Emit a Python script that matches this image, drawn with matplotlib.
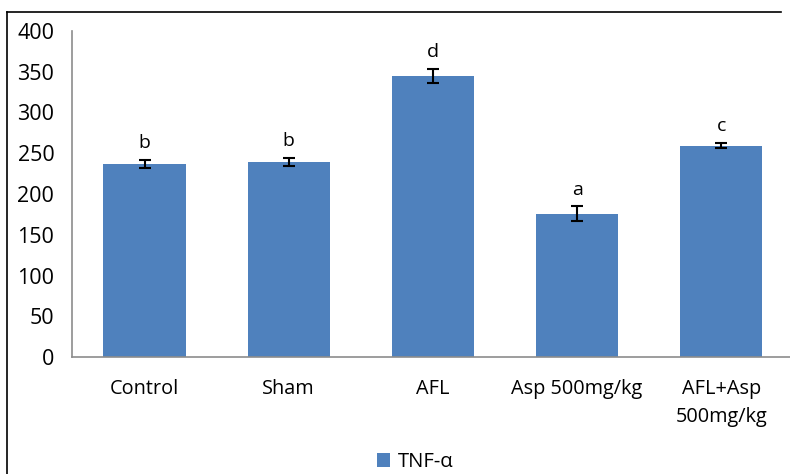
import numpy as np
import matplotlib.pyplot as plt
from matplotlib.lines import Line2D

plt.rcParams['font.family'] = ['Open Sans', 'DejaVu Sans']

groups = ['Control', 'Sham', 'AFL', 'Asp 500mg/kg', 'AFL+Asp\n500mg/kg']
tnf = [237, 239.5, 345, 176, 259.5]
sem = [5, 5, 8.5, 9, 3]
letters = ['b', 'b', 'd', 'a', 'c']

W, H = 790, 474
fig = plt.figure(figsize=(W / 100, H / 100), dpi=100)
ax = fig.add_axes([72.4 / W, (H - 357) / H, 721 / W, 326 / H])

x = np.arange(len(groups))
ax.bar(x, tnf, width=0.57, color='#4F81BD', label='TNF-α', zorder=2)
ax.errorbar(x, tnf, yerr=sem, fmt='none', ecolor='black', elinewidth=1.5,
            capsize=4, capthick=1.5, zorder=3)

for xi, v, e, s in zip(x, tnf, sem, letters):
    ax.annotate(s, (xi, v + e), xytext=(0, 5.5), textcoords='offset points',
                ha='center', va='bottom', fontsize=14)

ax.set_xlim(-0.5, 4.5)
ax.set_ylim(0, 400)
ax.set_yticks(np.arange(0, 401, 50))
ax.set_xticks(x)
ax.set_xticklabels(groups, linespacing=1.5)
ax.tick_params(axis='y', length=0, pad=13, labelsize=15.5)
ax.tick_params(axis='x', length=0, pad=16, labelsize=14.3)
for side in ['top', 'right']:
    ax.spines[side].set_visible(False)
for side in ['left', 'bottom']:
    ax.spines[side].set_color('#8c8c8c')
    ax.spines[side].set_linewidth(1.2)

ax.legend(loc='center', bbox_to_anchor=(415 / W, 1 - 462 / H),
          bbox_transform=fig.transFigure, frameon=False, fontsize=14.6,
          handlelength=0.65, handleheight=0.65, handletextpad=0.4)

# outer frame (left and top edges)
fig.add_artist(Line2D([7 / W, 7 / W], [-0.05, 1 - 12 / H], color='black', lw=1.2))
fig.add_artist(Line2D([7 / W, 781 / W], [1 - 12 / H, 1 - 12 / H], color='black', lw=1.2))

fig.savefig('out.png', dpi=100)
